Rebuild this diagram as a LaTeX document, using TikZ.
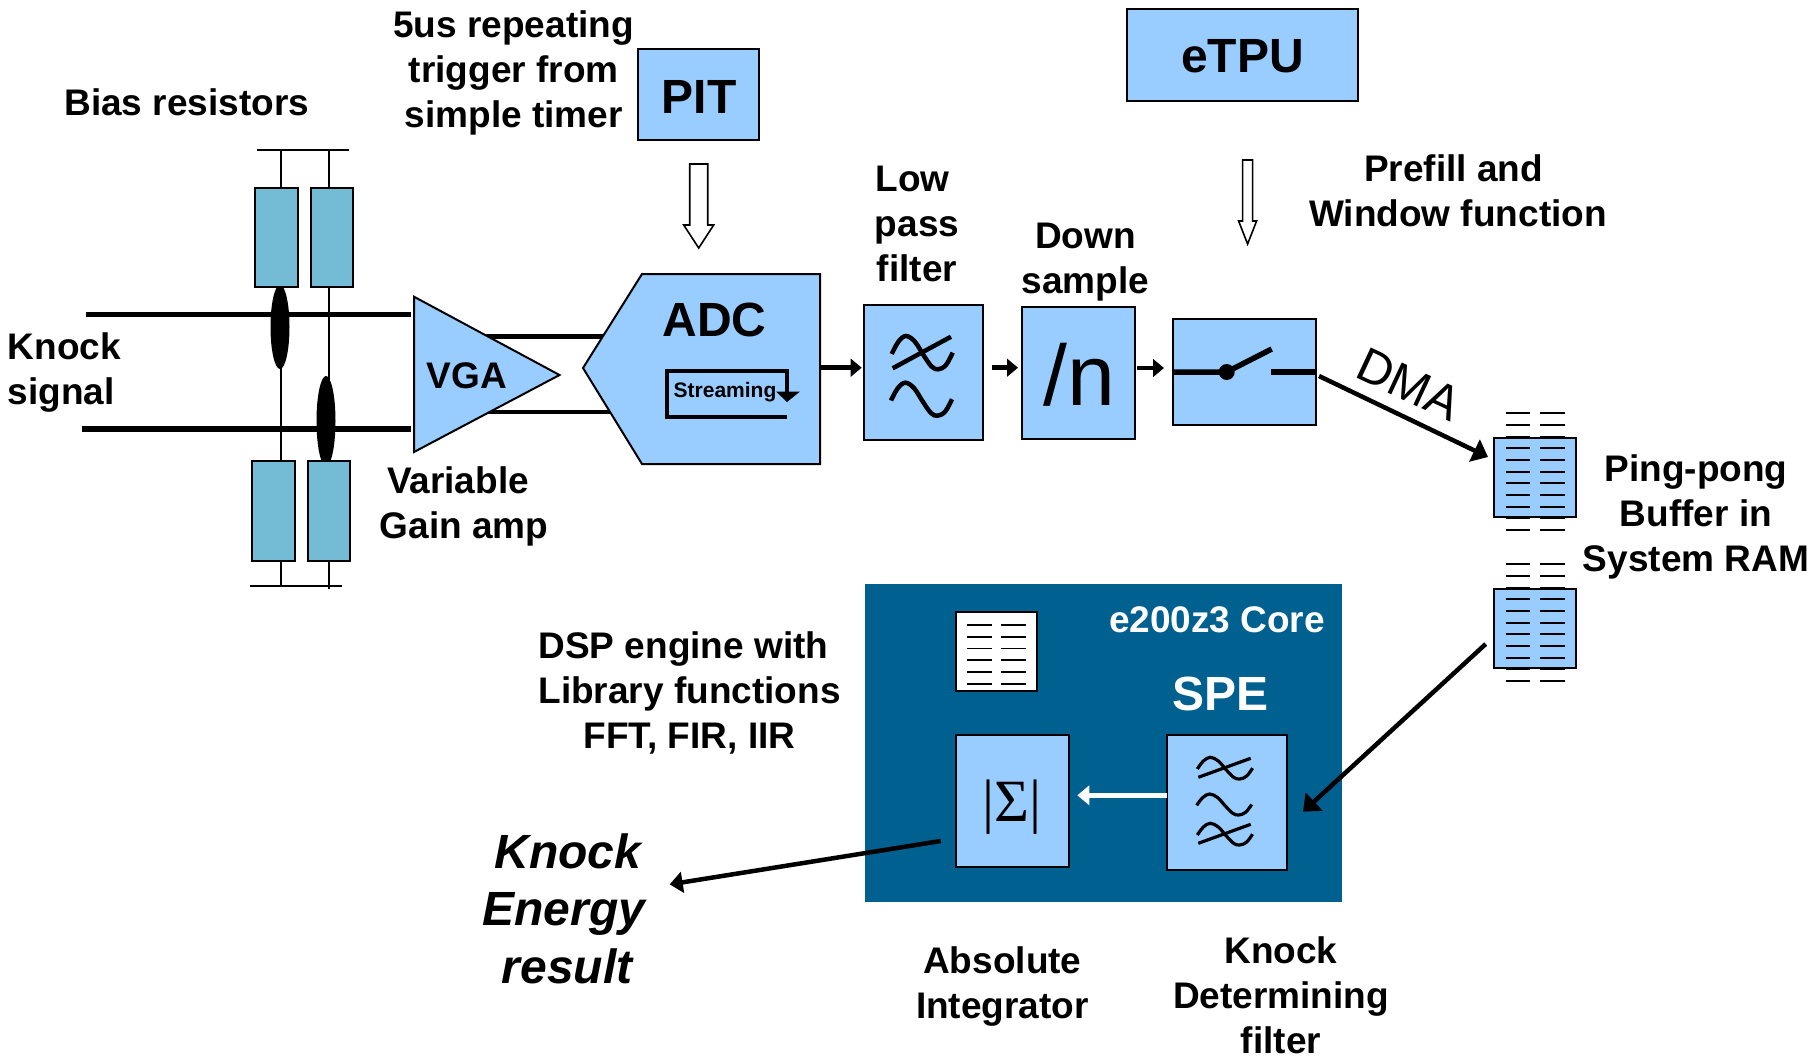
\documentclass[tikz,border=0pt]{standalone}
\usepackage{fontspec}
\setmainfont{Liberation Sans}
\newfontfamily\symfont{Liberation Serif}
\usetikzlibrary{arrows.meta,shapes.geometric}
\definecolor{blk}{HTML}{99CCFF}
\definecolor{res}{HTML}{74BCD6}
\definecolor{core}{HTML}{00608F}
\tikzset{
 lab/.style={font=\fontsize{37}{45}\selectfont\bfseries,align=center,inner sep=0,text=black},
 big/.style={font=\fontsize{48}{57.5}\selectfont\bfseries,align=center,inner sep=0},
 thin/.style={line width=2pt,draw=black},
 wave/.style={draw=black,line cap=butt},
 hollow/.style={draw=black,line width=1.6pt,fill=white,line join=miter},
 head/.style={-{Triangle[length=#1,width=#1*1.6]}},
}
% name, x1, y1, x2, y2, fill, text
\newcommand\bx[7]{\node[rectangle,draw=black,line width=2pt,fill=#6,inner sep=0,
  minimum width=#4pt-#2pt,minimum height=#5pt-#3pt,font=\fontsize{48}{57}\selectfont\bfseries]
  (#1) at ({(#2+#4)/2},{(#3+#5)/2}) {#7};}
\newcommand\sinew[5]{\draw[wave,line width=#5pt,shift={(#1pt,-#2pt)},x=#3pt,y=-#4pt]
  plot[smooth,tension=.6] coordinates {(0,.54)(.11,.17)(.235,0)(.38,.17)(.52,.57)(.656,.92)(.765,1)(.89,.87)(1,.5)};}
\newcommand\rows[6]{\foreach \r in {0,...,#5}{
  \draw[black,line width=1.7pt] (#1,#3+\r*#6) -- (#2,#3+\r*#6);}}
\newcommand\hollowarrow[6]{\draw[hollow] (#1-#4/2,#2) -- (#1+#4/2,#2) -- (#1+#4/2,#3-#6) -- (#1+#5/2,#3-#6) -- (#1,#3) -- (#1-#5/2,#3-#6) -- (#1-#4/2,#3-#6) -- cycle;}
\begin{document}
\begin{tikzpicture}[x=1pt,y=-1pt]
\useasboundingbox (0,0) rectangle (1820,1055);

% --- bias network
\coordinate (t1) at (257,150); \coordinate (t2) at (349,150);
\coordinate (b1) at (250,586); \coordinate (b2) at (342,586);
\draw[thin] (t1) -- (t2);
\draw[thin] (b1) -- (b2);
\coordinate (v1t) at (281,150); \coordinate (v1b) at (281,586);
\coordinate (v2t) at (329.4,150); \coordinate (v2b) at (329.4,589);
\draw[thin] (v1t) -- (v1b);
\draw[thin] (v2t) -- (v2b);
\coordinate (s1a) at (86,314.5); \coordinate (s1b) at (411,314.5);
\coordinate (s2a) at (82,429); \coordinate (s2b) at (411,429);
\draw[line width=5.5pt] (s1a) -- (s1b);
\draw[line width=5.5pt] (s2a) -- (s2b);
\node[ellipse,fill=black,inner sep=0,minimum width=19pt,minimum height=84pt] (e1) at (280,327) {};
\node[ellipse,fill=black,inner sep=0,minimum width=19pt,minimum height=90pt] (e2) at (326,421) {};
\bx{r1}{255.4}{187.7}{297.7}{286.7}{res}{}
\bx{r2}{311}{187.7}{353}{286.7}{res}{}
\bx{r3}{252}{460.7}{295}{560.7}{res}{}
\bx{r4}{308}{460.7}{350}{560.7}{res}{}

% --- links VGA -> ADC (under the shapes)
\coordinate (q1) at (485,336.7); \coordinate (q1e) at (610,336.7);
\coordinate (q2) at (485,412); \coordinate (q2e) at (610,412);
\draw[line width=4.5pt] (q1) -- (q1e);
\draw[line width=4.5pt] (q2) -- (q2e);

% --- VGA
\draw[fill=blk,line width=2pt] (414,296.7) -- (559.5,375) -- (414,452) -- cycle;
\node[lab] (vga) at (467,376) {VGA};

% --- ADC
\draw[fill=blk,line width=2pt] (583,368) -- (642,274) -- (820,274) -- (820,464) -- (642,464) -- cycle;
\coordinate (adcE) at (820,367.7);
\node[big] (adc) at (714.5,320) {ADC};
\draw[line width=4.5pt] (787,417) -- (667,417) -- (667,371) -- (787,371) -- (787,392);
\fill (776,391.5) -- (800,391.5) -- (787,402) -- cycle;
\node[font=\fontsize{21}{25}\selectfont\bfseries,inner sep=0] (strm) at (725,392) {Streaming};

% --- blocks
\bx{pit}{638.3}{48.7}{759}{140.4}{blk}{}
\node[big] (pitl) at (699,96.9) {PIT};
\bx{etpu}{1127}{9.3}{1358}{101}{blk}{}
\node[big] (etpul) at (1242.5,56.3) {eTPU};
\bx{lpf}{863.7}{304.7}{983}{440}{blk}{}
\bx{down}{1022}{307}{1135}{439}{blk}{}
\node[font=\fontsize{86}{90}\selectfont,inner sep=0] (n) at (1079,375) {/n};
\bx{sw}{1173.3}{319}{1316}{425}{blk}{}

% LPF symbol
\sinew{891.7}{336}{61}{33.3}{4.5}
\sinew{891}{382.7}{61}{33}{4.5}
\coordinate (l1) at (892.7,368.3); \coordinate (l2) at (951,336.7);
\draw[line width=4.5pt] (l1) -- (l2);

% switch symbol
\coordinate (swa) at (1173.3,372); \coordinate (swb) at (1226.7,372);
\coordinate (swc) at (1271.7,349); \coordinate (swd) at (1271,372); \coordinate (swe) at (1316,372);
\draw[line width=5.5pt] (swa) -- (swb) -- (swc);
\draw[line width=5.5pt] (swd) -- (swe);
\node[circle,fill=black,inner sep=0,minimum size=16pt] (dot) at (swb) {};

% --- arrows along the chain
\coordinate (lpfW) at (861.7,367.7);
\draw[line width=4.5pt,head=11pt] (adcE) -- (lpfW);
\coordinate (a1) at (992,367.7); \coordinate (a2) at (1018,367.7);
\draw[line width=4.5pt,head=11pt] (a1) -- (a2);
\coordinate (a3) at (1137,368); \coordinate (a4) at (1164,368);
\draw[line width=4.5pt,head=11pt] (a3) -- (a4);

% --- hollow arrows
\hollowarrow{698.7}{164}{248}{18}{30}{23}
\hollowarrow{1247.6}{160}{244}{10}{18}{23}

% --- DMA
\coordinate (dmaA) at (1319,376); \coordinate (dmaB) at (1488,457);
\draw[line width=4.5pt,head=15pt] (dmaA) -- (dmaB);
\node[font=\fontsize{48.5}{52}\selectfont,rotate=-25,inner sep=0] (dma) at (1409,384) {DMA};

% --- buffers
\bx{buf1}{1494.3}{437.7}{1576}{517.3}{blk}{}
\rows{1505.7}{1530}{413.3}{}{10}{11.67}
\rows{1540.3}{1565}{413.3}{}{10}{11.67}
\bx{buf2}{1494.3}{588.7}{1576}{668.3}{blk}{}
\rows{1505.7}{1530}{564.3}{}{10}{11.67}
\rows{1540.3}{1565}{564.3}{}{10}{11.67}

% --- core
\node[rectangle,draw=none,fill=core,inner sep=0,minimum width=477pt,minimum height=317.7pt] (corebox) at (1103.5,742.85) {};
\node[font=\fontsize{37}{40}\selectfont\bfseries,text=white,inner sep=0] (corel) at (1217,620) {e200z3 Core};
\node[font=\fontsize{48}{50}\selectfont\bfseries,text=white,inner sep=0] (spe) at (1220.5,694) {SPE};
\bx{doc}{955.7}{612}{1037}{691}{white}{}
\rows{966.7}{991.7}{625.3}{}{5}{11.67}
\rows{1001}{1026}{625.3}{}{5}{11.67}
\bx{sig}{955.7}{735}{1069.3}{866.5}{blk}{}
\node[font=\fontsize{60}{62}\selectfont\symfont,inner sep=0] (sigt) at (1012.3,807.5) {|Σ|};
\bx{fil}{1167.3}{735}{1287}{869.7}{blk}{}
\sinew{1197.3}{757.3}{55.3}{21.7}{3.2}
\sinew{1196.7}{794}{55}{21}{3.2}
\sinew{1197.3}{823.3}{55.3}{21.7}{3.2}
\coordinate (f1a) at (1198.3,777.3); \coordinate (f1b) at (1250.7,758.3);
\coordinate (f2a) at (1198.3,843.3); \coordinate (f2b) at (1250.7,824.3);
\draw[line width=3.2pt] (f1a) -- (f1b);
\draw[line width=3.2pt] (f2a) -- (f2b);
\coordinate (wa) at (1167.3,795.3); \coordinate (wb) at (1077.3,795.3);
\draw[white,line width=5pt,head=12pt] (wa) -- (wb);

% --- result arrows
\coordinate (b2a) at (1485.7,644); \coordinate (b2b) at (1303,811.7);
\draw[line width=4.5pt,head=15pt] (b2a) -- (b2b);
\coordinate (oa) at (940.7,841); \coordinate (ob) at (669.7,884.4);
\draw[line width=4.5pt,head=13pt] (oa) -- (ob);

% --- labels
\node[lab] (l5us) at (513.7,72.5) {5us repeating\\trigger from\\simple timer};
\node[lab] (lbias) at (186.7,102) {Bias resistors};
\node[lab,align=left,anchor=west] (lknock) at (7.5,373) {Knock\\signal};
\node[lab] (lvar) at (464,506) {Variable\hspace*{12pt}\\Gain amp};
\node[lab] (llow) at (917,223.5) {Low\hspace*{9pt}\\pass\hspace*{9pt}\\filter};
\node[lab] (ldown) at (1085.4,262.3) {Down\\sample};
\node[lab] (lpre) at (1458,190.5) {Prefill and\hspace*{9pt}\\Window function};
\node[lab] (lping) at (1696,517.3) {Ping-pong\\Buffer in\\System RAM};
\node[lab] (ldsp) at (689.5,693) {DSP engine with\hspace*{12pt}\\Library functions\\FFT, FIR, IIR};
\node[lab] (labs) at (1002.4,987) {Absolute\\Integrator};
\node[lab] (lkdf) at (1281,995.4) {Knock\\Determining\\filter};
\node[big,font=\fontsize{48}{57.5}\selectfont\bfseries\itshape] (lres) at (564,908.4) {\hspace*{8pt}Knock\\Energy\hspace*{20pt}\\\hspace*{6pt}result};
\end{tikzpicture}
\end{document}
